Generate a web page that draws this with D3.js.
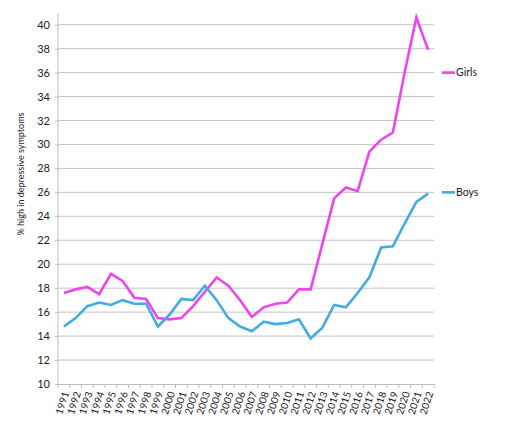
<!DOCTYPE html>
<html><head><meta charset="utf-8">
<script src="https://cdn.jsdelivr.net/npm/d3@7"></script>
<style>
body{margin:0;background:#fff;}
text{font-family:Lato,"Open Sans",sans-serif;fill:#222;}
</style></head>
<body><svg id="c" width="516" height="423"></svg>
<script>
const years = d3.range(1991, 2023).map(String);
const girls = [17.6,17.9,18.1,17.5,19.2,18.6,17.2,17.1,15.5,15.4,15.5,16.5,17.7,18.9,18.2,17.0,15.6,16.4,16.7,16.8,17.9,17.9,21.7,25.5,26.4,26.1,29.4,30.4,31.0,36.0,40.6,37.9];
const boys = [14.8,15.5,16.5,16.8,16.6,17.0,16.7,16.7,14.8,15.8,17.1,17.0,18.2,17.0,15.5,14.8,14.4,15.2,15.0,15.1,15.4,13.8,14.7,16.6,16.4,17.6,18.9,21.4,21.5,23.4,25.2,25.9];
const yTicks = d3.range(10, 41, 2);
const seriesNames = ["Girls","Boys"];
const seriesColors = ["#EE44EE","#44AAE6"];
const legendVals = [36, 26];

(function(){
const svg = d3.select("#c");
const pl = 58, pr = 434, pt = 24.7, pb = 384;
const x = d3.scaleBand().domain(years).range([pl, pr]);
const y = d3.scaleLinear().domain([10, 40]).range([pb, pt]);

// gridlines
svg.append("g").selectAll("line").data(yTicks.slice(1)).join("line")
  .attr("x1", pl).attr("x2", pr).attr("y1", d=>y(d)).attr("y2", d=>y(d))
  .attr("stroke", "#c4c4c4").attr("stroke-width", 1);

// y axis
const ya = svg.append("g").attr("transform", `translate(${pl},0)`)
  .call(d3.axisLeft(y).tickValues(yTicks).tickSize(3).tickPadding(5));
ya.select(".domain").attr("stroke","#bdbdbd").attr("d", `M0,${pt-12}V${pb}`);
ya.selectAll(".tick line").attr("stroke","#bdbdbd");
ya.selectAll("text").style("font-family","Lato,sans-serif").style("font-size","11px").attr("fill","#333");

// x axis
const xa = svg.append("g").attr("transform", `translate(0,${pb})`)
  .call(d3.axisBottom(x).tickSize(0).tickPadding(0));
xa.select(".domain").attr("stroke","#bdbdbd");
svg.append("g").selectAll("line").data(years.concat(["end"])).join("line")
  .attr("x1", (d,i)=>pl + i*x.step()).attr("x2", (d,i)=>pl + i*x.step())
  .attr("y1", pb).attr("y2", pb+4).attr("stroke","#bdbdbd");
xa.selectAll("text")
  .style("font-family","Lato,sans-serif").style("font-size","10px").attr("fill","#333")
  .attr("text-anchor","end").attr("dy","0.35em").attr("y",0)
  .attr("transform", d => `translate(2,8) rotate(-72)`);

// y label
svg.append("text").attr("transform","translate(24,174) rotate(-90)")
  .attr("text-anchor","middle").style("font-size","9px").attr("fill","#333")
  .text("% high in depressive symptoms");

// lines
const line = d3.line().x((d,i)=>x(years[i]) + x.bandwidth()/2).y(d=>y(d));
[girls, boys].forEach((s,k)=>{
  svg.append("path").datum(s).attr("d", line).attr("fill","none")
    .attr("stroke", seriesColors[k]).attr("stroke-width", 2.6).attr("stroke-linejoin","miter");
});

// legend
seriesNames.forEach((n,k)=>{
  const g = svg.append("g").attr("transform", `translate(442,${y(legendVals[k])})`);
  g.append("line").attr("x1",0).attr("x2",13).attr("stroke",seriesColors[k]).attr("stroke-width",2.6);
  g.append("text").attr("x",14).attr("dy","0.35em").style("font-size","10.5px").attr("fill","#333").text(n);
});
})();
</script></body></html>
